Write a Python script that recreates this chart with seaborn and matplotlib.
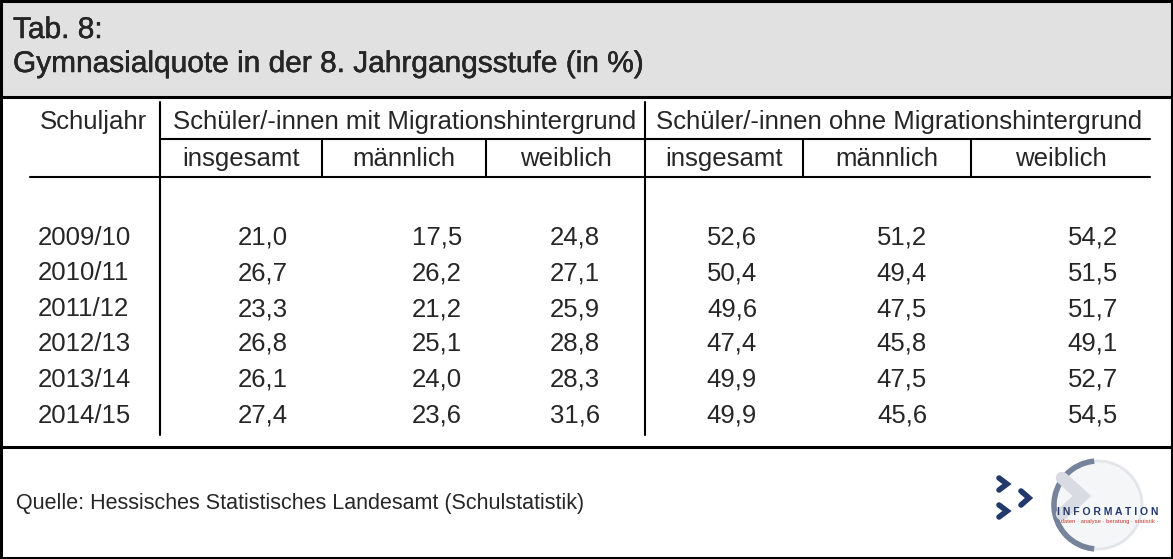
import seaborn as sns
import pandas as pd
import matplotlib.pyplot as plt
import matplotlib.patheffects as pe
from matplotlib.patches import Rectangle, Arc, Circle

# Tab. 8 - Gymnasialquote in der 8. Jahrgangsstufe, redrawn as a table

title_lines = ["Tab. 8:", "Gymnasialquote in der 8. Jahrgangsstufe (in %)"]
years = ["2009/10", "2010/11", "2011/12", "2012/13", "2013/14", "2014/15"]
groups = ["Schüler/-innen mit Migrationshintergrund",
          "Schüler/-innen ohne Migrationshintergrund"]
subcols = ["insgesamt", "männlich", "weiblich"]
mit_insgesamt = [21.0, 26.7, 23.3, 26.8, 26.1, 27.4]
mit_maennlich = [17.5, 26.2, 21.2, 25.1, 24.0, 23.6]
mit_weiblich = [24.8, 27.1, 25.9, 28.8, 28.3, 31.6]
ohne_insgesamt = [52.6, 50.4, 49.6, 47.4, 49.9, 49.9]
ohne_maennlich = [51.2, 49.4, 47.5, 45.8, 47.5, 45.6]
ohne_weiblich = [54.2, 51.5, 51.7, 49.1, 52.7, 54.5]
source = "Quelle: Hessisches Statistisches Landesamt (Schulstatistik)"

df = pd.DataFrame(
    [mit_insgesamt, mit_maennlich, mit_weiblich,
     ohne_insgesamt, ohne_maennlich, ohne_weiblich],
).T
df.index = years


def fmt(v):
    return "{:.1f}".format(v).replace(".", ",")


sns.set_theme(style="white")
plt.rcParams["font.family"] = ["Liberation Sans", "DejaVu Sans"]

fig = plt.figure(figsize=(11.73, 5.59), dpi=100)
ax = fig.add_axes([0, 0, 1, 1])
ax.set_xlim(0, 1173)
ax.set_ylim(559, 0)
ax.axis("off")

thick = 2.2
thin = 1.5
# title band + frame
ax.add_patch(Rectangle((0, 0), 1173, 97, facecolor="#e1e1e1", edgecolor="none"))
ax.add_patch(Rectangle((1, 1), 1171, 557, facecolor="none", edgecolor="black", lw=thick))
ax.plot([0, 1173], [97, 97], color="black", lw=thick)
ax.plot([0, 1173], [447, 447], color="black", lw=thick)

medium = [pe.withStroke(linewidth=0.3, foreground="black")]
ax.text(13, 30, title_lines[0], fontsize=21.5, va="center", path_effects=medium)
ax.text(13, 64, title_lines[1], fontsize=21.5, va="center", path_effects=medium)

# table grid
col_edges = [160, 322, 486, 645, 803, 971, 1150]
ax.plot([160, 160], [102, 435], color="black", lw=thin)
ax.plot([645, 645], [102, 435], color="black", lw=thin)
ax.plot([160, 1150], [139, 139], color="black", lw=thin)
ax.plot([30, 1150], [177, 177], color="black", lw=thin)
for x in [322, 486, 803, 971]:
    ax.plot([x, x], [139, 177], color="black", lw=thin)

fs = 18.5
ax.text(40, 122, "Schuljahr", fontsize=fs, ha="left", va="center")
ax.text((160 + 645) / 2 + 2, 122, groups[0], fontsize=fs, ha="center", va="center")
ax.text((645 + 1150) / 2 + 2, 122, groups[1], fontsize=fs, ha="center", va="center")
for i in range(6):
    c = (col_edges[i] + col_edges[i + 1]) / 2
    ax.text(c, 159, subcols[i % 3], fontsize=fs, ha="center", va="center")

row_y = [238, 273, 309, 344, 380, 416]
val_right = [288, 462, 600, 757, 927, 1118]
for r, year in enumerate(df.index):
    ax.text(38, row_y[r], year, fontsize=fs, ha="left", va="center")
    for c in range(df.shape[1]):
        ax.text(val_right[c], row_y[r], fmt(df.iloc[r, c]), fontsize=fs,
                ha="right", va="center")

ax.text(16, 503, source, fontsize=15.5, ha="left", va="center")

# logo
navy = "#22396b"
ax.add_patch(Circle((1098, 505), 44, facecolor="#f5f6f8", edgecolor="#e2e5ea", lw=2))
ax.add_patch(Arc((1098, 505), 88, 88, theta1=95, theta2=265, color="#75849a", lw=4))
ax.plot([1062, 1082, 1062], [478, 496, 514], color="#d8dce2", lw=9,
        solid_joinstyle="miter")
for (cx, cy, h) in [(1003, 484, 6), (1025, 498, 7), (1003, 511, 6)]:
    ax.plot([cx - 4, cx + 4, cx - 4], [cy - h, cy, cy + h], color=navy, lw=4,
            solid_joinstyle="miter")
ax.text(1108, 512, "I N F O R M A T I O N", fontsize=7.5, color=navy, ha="center",
        va="center", fontweight="bold")
ax.text(1108, 521, "\u00b7 daten \u00b7 analyse \u00b7 beratung \u00b7 statistik \u00b7",
        fontsize=4.2, color="#c0392b", ha="center", va="center")

fig.savefig("out.png", dpi=100)
